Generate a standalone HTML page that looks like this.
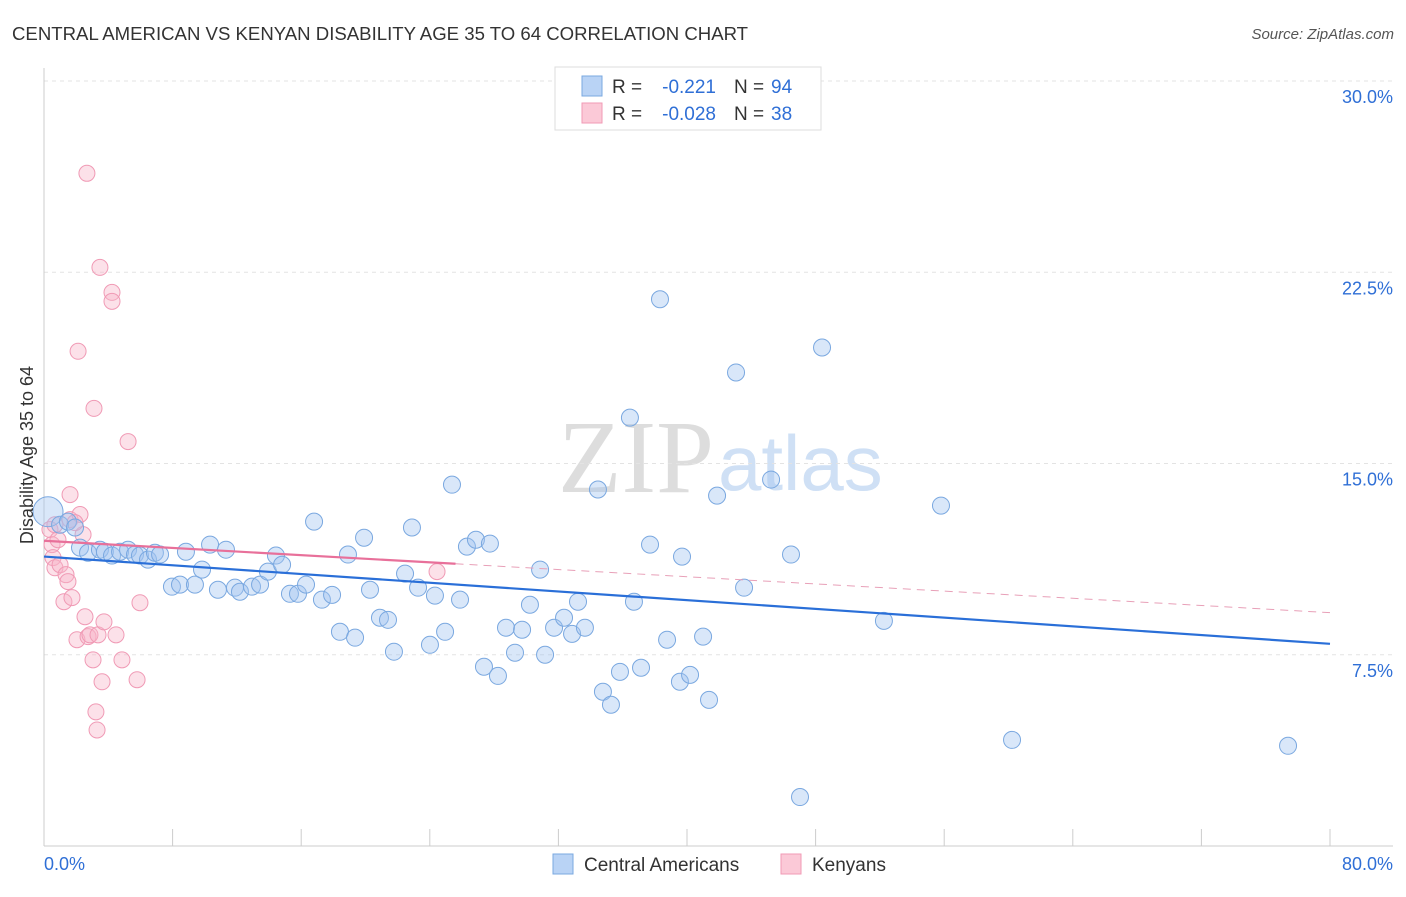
<!DOCTYPE html>
<html><head><meta charset="utf-8"><style>
body{margin:0;background:#fff;font-family:"Liberation Sans",sans-serif;}
</style></head><body>
<svg id="chart" width="1406" height="892" xmlns="http://www.w3.org/2000/svg">
<text x="12" y="40" font-size="18.6" fill="#333">CENTRAL AMERICAN VS KENYAN DISABILITY AGE 35 TO 64 CORRELATION CHART</text>
<text x="1394" y="39" font-size="15" fill="#555" font-style="italic" text-anchor="end">Source: ZipAtlas.com</text>
<text x="714" y="492" font-size="104" fill="#ddd" text-anchor="end" font-family="Liberation Serif">ZIP</text>
<text x="718" y="490" font-size="78" fill="#cfe0f5">atlas</text>
<g id="grid"></g><g id="axes"></g><g id="marks"></g>
<text transform="translate(33,455) rotate(-90)" font-size="18" fill="#333" text-anchor="middle">Disability Age 35 to 64</text>
<g>
<rect x="555" y="67" width="266" height="63" fill="#fff" stroke="#ddd"/>
<rect x="582" y="76" width="20" height="20" fill="#b9d3f5" stroke="#7aa8e0"/>
<rect x="582" y="103" width="20" height="20" fill="#fbc9d7" stroke="#f09ab5"/>
<text x="612" y="93" font-size="19" fill="#333">R =</text>
<text x="716" y="93" font-size="19" fill="#2f6fd6" text-anchor="end">-0.221</text>
<text x="734" y="93" font-size="19" fill="#333">N =</text>
<text x="771" y="93" font-size="19" fill="#2f6fd6">94</text>
<text x="612" y="120" font-size="19" fill="#333">R =</text>
<text x="716" y="120" font-size="19" fill="#2f6fd6" text-anchor="end">-0.028</text>
<text x="734" y="120" font-size="19" fill="#333">N =</text>
<text x="771" y="120" font-size="19" fill="#2f6fd6">38</text>
</g>
<g>
<rect x="553" y="854" width="20" height="20" fill="#b9d3f5" stroke="#7aa8e0"/>
<text x="584" y="871" font-size="19" fill="#333">Central Americans</text>
<rect x="781" y="854" width="20" height="20" fill="#fbc9d7" stroke="#f09ab5"/>
<text x="812" y="871" font-size="19" fill="#333">Kenyans</text>
</g>
</svg>
<script>
const yTicks=[7.5,15,22.5,30];
const yTickLabels=["7.5%","15.0%","22.5%","30.0%"];
const xTickVals=[0,8,16,24,32,40,48,56,64,72,80];
const blueX=[0.25,1.0,1.49,1.93,2.24,2.74,3.48,3.79,4.23,4.73,5.23,5.66,5.97,6.47,6.9,7.22,7.96,8.46,8.83,9.39,9.83,10.33,10.82,11.32,11.88,12.19,12.94,13.44,13.93,14.43,14.81,15.3,15.8,16.3,16.8,17.29,17.92,18.41,18.91,19.35,19.91,20.28,20.9,21.4,21.77,22.46,22.89,23.27,24.01,24.32,24.95,25.38,25.88,26.31,26.87,27.37,27.74,28.24,28.74,29.3,29.74,30.23,30.86,31.17,31.73,32.35,32.85,33.22,33.65,34.46,34.77,35.27,35.83,36.45,36.7,37.14,37.7,38.32,38.76,39.56,39.69,40.19,41.0,41.37,41.87,43.05,43.55,45.23,46.47,47.03,48.4,52.25,55.8,60.22,77.39];
const blueY=[13.11,12.6,12.72,12.49,11.7,11.5,11.62,11.54,11.39,11.54,11.62,11.43,11.39,11.23,11.5,11.43,10.17,10.25,11.54,10.25,10.84,11.82,10.05,11.62,10.13,9.97,10.17,10.25,10.76,11.39,11.03,9.89,9.89,10.25,12.72,9.66,9.85,8.4,11.43,8.17,12.09,10.05,8.95,8.87,7.62,10.68,12.49,10.13,7.89,9.82,8.4,14.17,9.66,11.74,12.01,7.03,11.86,6.67,8.56,7.58,8.48,9.46,10.84,7.5,8.56,8.95,8.32,9.58,8.56,13.98,6.05,5.54,6.83,16.8,9.58,6.99,11.82,21.44,8.09,6.44,11.35,6.71,8.21,5.73,13.74,18.57,10.13,14.37,11.43,1.92,19.55,8.83,13.35,4.16,3.93];
const pinkX=[0.37,0.5,0.56,0.68,0.87,1.0,1.24,1.37,1.49,1.62,1.62,1.74,2.05,2.12,2.24,2.43,2.55,2.67,2.74,2.86,3.05,3.11,3.23,3.3,3.36,3.48,3.61,3.73,4.23,4.23,4.48,4.85,5.23,5.79,5.97,24.45,0.68,1.93];
const pinkY=[12.41,11.82,11.31,10.91,12.01,11.03,9.58,10.64,10.37,13.78,12.8,9.74,8.09,19.4,13.0,12.21,8.99,26.38,8.21,8.28,7.3,17.16,5.26,4.55,8.28,22.69,6.44,8.79,21.71,21.36,8.28,7.3,15.86,6.52,9.54,10.76,12.6,12.68];
const blueTrend=[11.35,7.93];
const pinkTrend=[11.97,9.15];
const pinkSolidEnd=25.6;
const NS="http://www.w3.org/2000/svg";
const sx=v=>44+v*1286/80, sy=v=>846-v*25.5;
function mk(t,a,p){const e=document.createElementNS(NS,t);for(const k in a)e.setAttribute(k,a[k]);document.getElementById(p).appendChild(e);return e;}
yTicks.forEach((t,i)=>{
 const l=mk('line',{x1:44,x2:1393,y1:sy(t),y2:sy(t),stroke:'#e3e3e3','stroke-dasharray':'4,4'},'grid');
 
 
 const tx=mk('text',{x:1393,y:sy(t)+22,'font-size':18,fill:'#2f6fd6','text-anchor':'end'},'axes');
 tx.textContent=yTickLabels[i];
 
 
});
const ax=mk('line',{x1:44,x2:1393,y1:846,y2:846,stroke:'#ccc'},'axes');


const ay=mk('line',{x1:44,x2:44,y1:68,y2:846,stroke:'#ccc'},'axes');


xTickVals.forEach(v=>{const l=mk('line',{x1:sx(v),x2:sx(v),y1:829,y2:846,stroke:'#ccc'},'axes');
 
 });
const x0=mk('text',{x:44,y:870,'font-size':18,fill:'#2f6fd6'},'axes');x0.textContent='0.0%';


const x1=mk('text',{x:1393,y:870,'font-size':18,fill:'#2f6fd6','text-anchor':'end'},'axes');x1.textContent='80.0%';


pinkX.forEach((x,i)=>{const c=mk('circle',{cx:sx(x),cy:sy(pinkY[i]),r:8,fill:'rgba(248,180,200,0.4)',stroke:'#f09ab5','stroke-width':1},'marks');
 
 });
blueX.forEach((x,i)=>{const c=mk('circle',{cx:sx(x),cy:sy(blueY[i]),r:i===0?15:8.5,fill:'rgba(160,195,240,0.4)',stroke:'#7aa8e0','stroke-width':1},'marks');
 
 });
const bt=mk('line',{x1:sx(0),y1:sy(blueTrend[0]),x2:sx(80),y2:sy(blueTrend[1]),stroke:'#2a6fd8','stroke-width':2.2},'marks');


const pm=pinkTrend[0]+(pinkTrend[1]-pinkTrend[0])*pinkSolidEnd/80;
const pt=mk('line',{x1:sx(0),y1:sy(pinkTrend[0]),x2:sx(pinkSolidEnd),y2:sy(pm),stroke:'#e8709a','stroke-width':2.2},'marks');


const pd=mk('line',{x1:sx(pinkSolidEnd),y1:sy(pm),x2:sx(80),y2:sy(pinkTrend[1]),stroke:'#e8a0b8','stroke-width':1,'stroke-dasharray':'8,6'},'marks');


</script>
</body></html>
